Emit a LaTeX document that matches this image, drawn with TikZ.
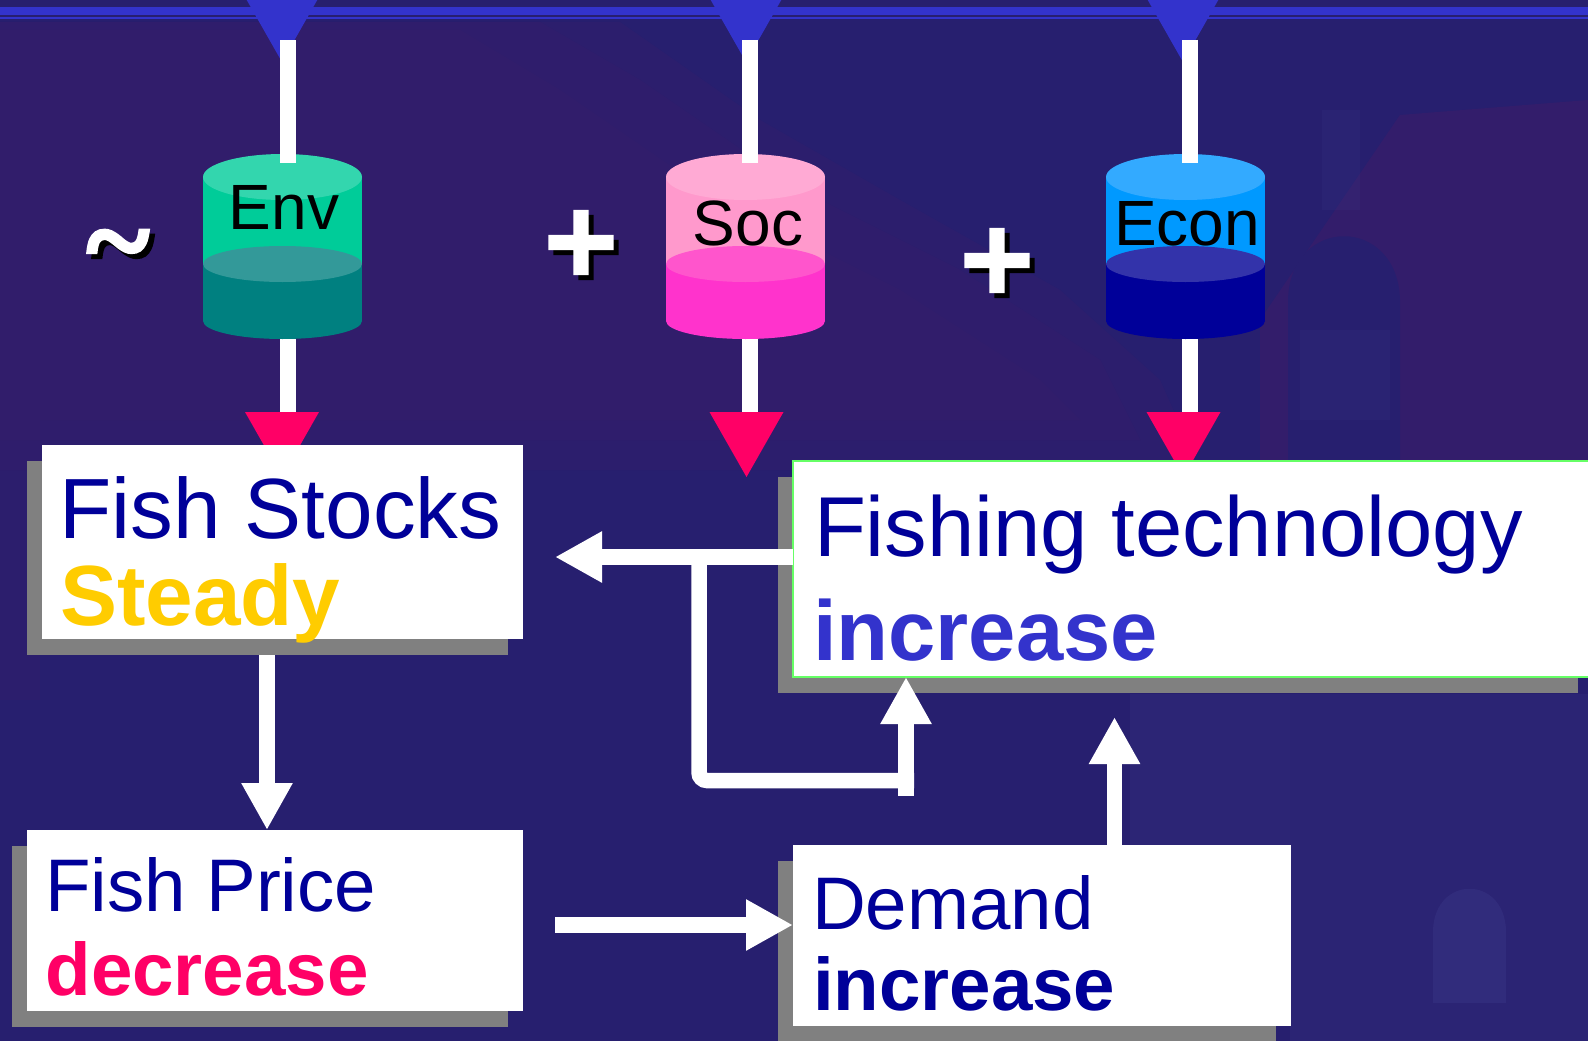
\documentclass[tikz,border=0pt]{standalone}
\usepackage{fontspec}
\setmainfont{Liberation Sans}
\newfontfamily\symsans{DejaVu Sans}
\newfontfamily\symserif{Liberation Serif}
\usetikzlibrary{arrows.meta,shadows}
\definecolor{bgnavy}{HTML}{271F6F}
\definecolor{bgpurple}{HTML}{361D6B}
\definecolor{bglight}{HTML}{3A3686}
\definecolor{topblue}{HTML}{3333CC}
\definecolor{pinkred}{HTML}{FF0066}
\definecolor{darkblue}{HTML}{000099}
\definecolor{gold}{HTML}{FFCC00}
\definecolor{shadowgray}{HTML}{808080}
\definecolor{boxgreen}{HTML}{66FF66}
\definecolor{envA}{HTML}{33D6AE}\definecolor{envB}{HTML}{00CC99}\definecolor{envC}{HTML}{339999}\definecolor{envD}{HTML}{008080}
\definecolor{socA}{HTML}{FFAAD4}\definecolor{socB}{HTML}{FF99CC}\definecolor{socC}{HTML}{FF55CC}\definecolor{socD}{HTML}{FF33CC}
\definecolor{ecoA}{HTML}{33AAFF}\definecolor{ecoB}{HTML}{0099FF}\definecolor{ecoC}{HTML}{3333AA}\definecolor{ecoD}{HTML}{000099}
\newcommand\fsz[1]{\fontsize{#1}{#1}\selectfont}
% heavy glyph with a black drop shadow, as one text
\newcommand\heavysym[2]{\special{pdf:literal 2 Tr #2 w}%
  \rlap{\kern5pt\raisebox{-5pt}{\color{black}#1}}#1%
  \special{pdf:literal 0 Tr 1 w}}
\newcommand\mycyl[5]{%
  \fill[#5] (#1-79.5,264) rectangle (#1+79.5,321);
  \fill[#5] (#1,321) ellipse [x radius=79.5, y radius=18];
  \fill[#3] (#1-79.5,177) rectangle (#1+79.5,264);
  \fill[#4] (#1,264) ellipse [x radius=79.5, y radius=18];
  \fill[#2] (#1,177) ellipse [x radius=79.5, y radius=23];
}
\newcommand\mytri[4]{\fill[#4] (#1-37,#2) -- (#1+37,#2) -- (#1,#3) -- cycle;}
\tikzset{
  wline/.style={draw=white, line width=15.5pt},
  warrow/.style={wline, -{Triangle[width=48pt,length=47pt]}},
  box/.style={rectangle, fill=white, inner sep=0pt, outer sep=0pt,
    drop shadow={shadow xshift=-15pt, shadow yshift=-16pt, fill=shadowgray, opacity=1}},
  lbl/.style={inner sep=0pt, outer sep=0pt, anchor=base west},
  cyllbl/.style={inner sep=0pt, outer sep=0pt, anchor=base, text=black, font=\fsz{64}},
  symw/.style={inner sep=0pt, outer sep=0pt, text=white},
}
\begin{document}
\begin{tikzpicture}[x=1pt,y=-1pt]
\useasboundingbox (0,0) rectangle (1588,1041);
\clip (0,0) rectangle (1588,1041);
% background
\fill[bgnavy] (0,0) rectangle (1588,1041);
\fill[bgpurple, opacity=0.35] (0,22) -- (620,22) -- (760,120) -- (900,200) -- (1060,290) -- (1160,380) -- (1200,470) -- (0,470) -- cycle;
\fill[bgpurple, opacity=0.35] (0,22) -- (540,22) -- (640,80) -- (800,190) -- (960,270) -- (1100,360) -- (1140,440) -- (0,440) -- cycle;
\fill[bgpurple, opacity=0.35] (0,30) -- (460,30) -- (560,90) -- (720,200) -- (900,290) -- (1040,380) -- (1080,420) -- (0,420) -- cycle;
\fill[bgpurple, opacity=0.35] (0,420) rectangle (40,700);
\fill[bgpurple, opacity=0.8] (1400,115) -- (1588,100) -- (1588,470) -- (1260,470) -- (1260,320) -- cycle;
\fill[bgnavy] (1288,470) -- (1288,300) .. controls (1290,215) and (1398,215) .. (1400,300) -- (1400,470) -- cycle;
\fill[bglight, opacity=0.2] (1322,110) rectangle (1360,210);
\fill[bglight, opacity=0.2] (1300,330) rectangle (1390,420);
\fill[bglight, opacity=0.3] (1130,694) rectangle (1290,845);
\fill[bglight, opacity=0.25] (1290,694) rectangle (1588,1041);
\fill[bglight, opacity=0.45] (1433,1003) -- (1433,930) .. controls (1435,875) and (1504,875) .. (1506,930) -- (1506,1003) -- cycle;
% top rule
\fill[topblue] (0,7) rectangle (1588,15);
\fill[topblue] (0,17) rectangle (1588,19);
% blue input triangles
\mytri{282}{-3}{62}{topblue}
\mytri{746}{-3}{62}{topblue}
\mytri{1183}{-3}{62}{topblue}
% coordinates
\coordinate (envin) at (288,40);   \coordinate (envtop) at (288,163);
\coordinate (envbot) at (288,339); \coordinate (envout) at (288,412);
\coordinate (socin) at (750,40);   \coordinate (soctop) at (750,163);
\coordinate (socbot) at (750,339); \coordinate (socout) at (750,412);
\coordinate (ecoin) at (1190,40);  \coordinate (ecotop) at (1190,163);
\coordinate (ecobot) at (1190,339);\coordinate (ecoout) at (1190,412);
% pink output triangles
\mytri{282}{412}{477}{pinkred}
\mytri{746.5}{412}{477}{pinkred}
\mytri{1183.5}{412}{477}{pinkred}
% lower connectors
\draw[wline] (envbot) -- (envout);
\draw[wline] (socbot) -- (socout);
\draw[wline] (ecobot) -- (ecoout);
% cylinders
\mycyl{282.5}{envA}{envB}{envC}{envD}
\mycyl{745.5}{socA}{socB}{socC}{socD}
\mycyl{1185.5}{ecoA}{ecoB}{ecoC}{ecoD}
% upper connectors
\draw[wline] (envin) -- (envtop);
\draw[wline] (socin) -- (soctop);
\draw[wline] (ecoin) -- (ecotop);
% cylinder labels
\node[cyllbl] (env) at (284,229) {Env};
\node[cyllbl] (soc) at (748,245) {Soc};
\node[cyllbl] (econ) at (1187,245) {Econ};
% symbols
\node[symw, font={\symserif\bfseries\fsz{120}}] (tilde) at (118,258) {\heavysym{\textasciitilde}{3}};
\node[symw, font={\symsans\bfseries\fsz{98}}] (plusA) at (581,245) {\heavysym{+}{4}};
\node[symw, font={\symsans\bfseries\fsz{98}}] (plusB) at (997,263) {\heavysym{+}{4}};
% boxes
\node[box, minimum width=481pt, minimum height=193.5pt] (fs) at (282.5,541.75) {};
\node[box, minimum width=496.5pt, minimum height=180.5pt] (fp) at (274.75,920.25) {};
\node[box, draw=boxgreen, line width=1.5pt, minimum width=800pt, minimum height=216pt] (ft) at (1193,569) {};
\node[box, minimum width=498pt, minimum height=181pt] (dm) at (1042,935.5) {};
% texts
\node[lbl, text=darkblue, font=\fsz{85.5}] (fsA) at (59.5,538) {Fish Stocks};
\node[lbl, text=gold, font={\bfseries\fsz{85.5}}] (fsB) at (60,625) {Steady};
\node[lbl, text=darkblue, font=\fsz{74.5}] (fpA) at (45,911) {Fish Price};
\node[lbl, text=pinkred, font={\bfseries\fsz{74.5}}] (fpB) at (45.5,995) {decrease};
\node[lbl, text=darkblue, font=\fsz{85}] (ftA) at (814,556.6) {Fishing technology};
\node[lbl, text=topblue, font={\bfseries\fsz{85}}] (ftB) at (813,660) {increase};
\node[lbl, text=darkblue, font=\fsz{74.5}] (dmA) at (812,929) {Demand};
\node[lbl, text=darkblue, font={\bfseries\fsz{74.5}}] (dmB) at (813,1010.7) {increase};
% arrows
\coordinate (a1) at (267,655);
\draw[warrow] (a1) -- (a1 |- fp.north);
\coordinate (a2) at (555,925);
\draw[warrow] (a2) -- (a2 -| dm.west);
\coordinate (a3) at (555,557);
\draw[warrow] (a3 -| ft.west) -- (a3);
\coordinate (jct) at (699,557);
\coordinate (loopend) at (914,780.5);
\draw[wline, rounded corners=8pt] (jct) |- (loopend);
\coordinate (a4) at (906,796);
\draw[warrow] (a4) -- (a4 |- ft.south);
\coordinate (a5) at (1114.5,717);
\draw[warrow] (dm.north -| a5) -- (a5);
\end{tikzpicture}
\end{document}
